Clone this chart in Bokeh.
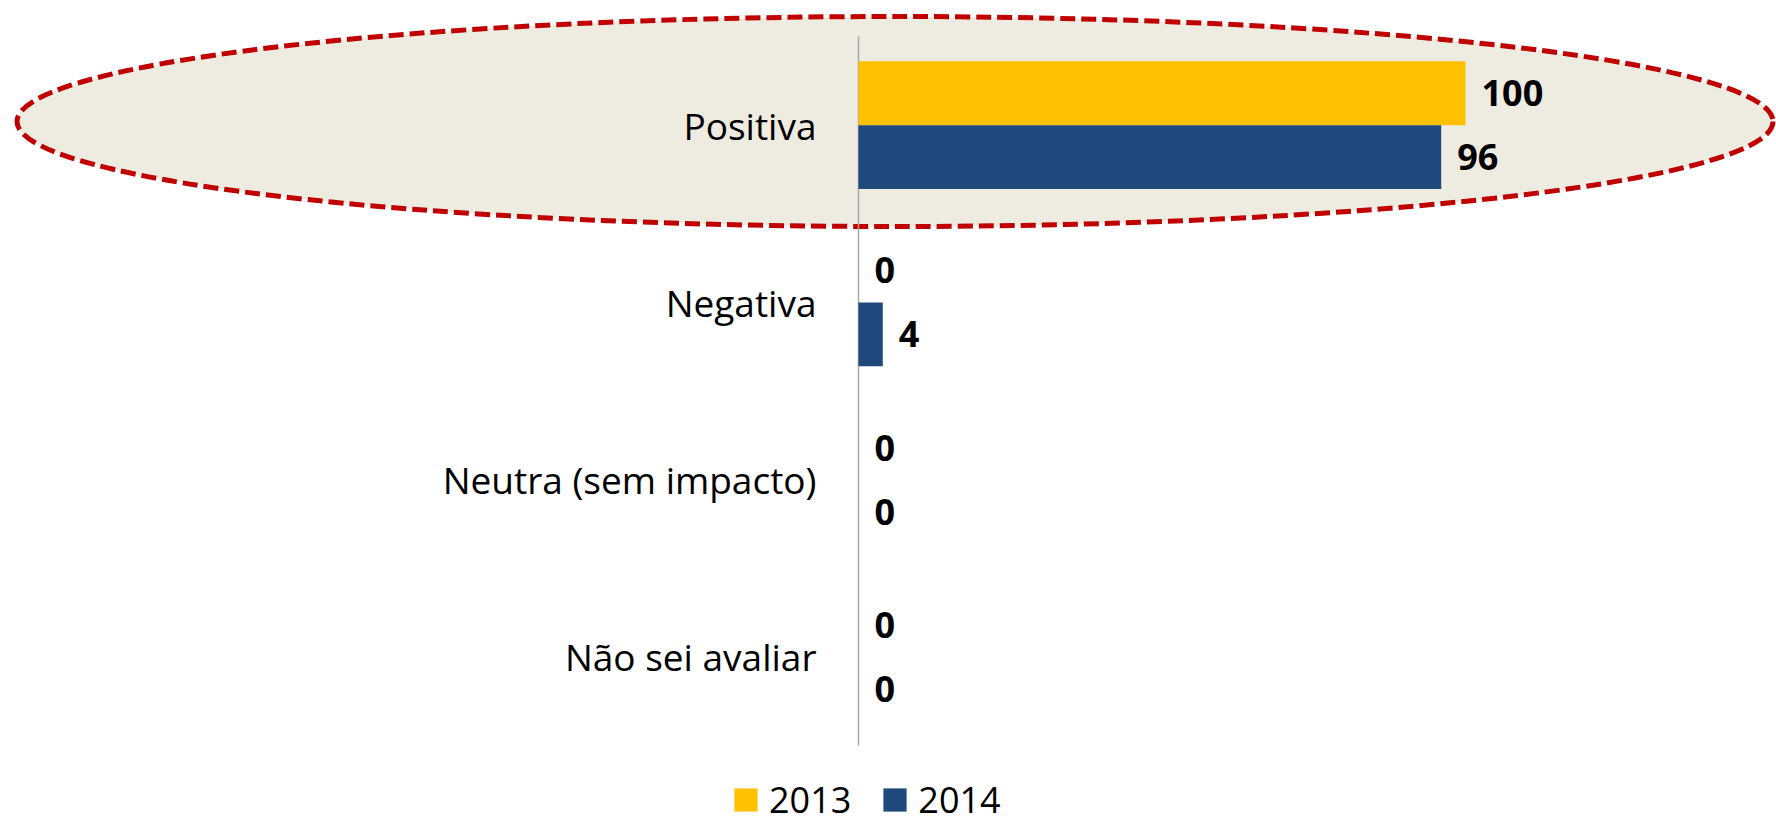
import numpy as np
from bokeh.plotting import figure
from bokeh.models import Range1d, Legend, LegendItem
from bokeh.core.properties import value
from bokeh.embed import file_html
from bokeh.resources import INLINE

# ---- data ----
categories = ["Positiva", "Negativa", "Neutra (sem impacto)", "Não sei avaliar"]
values_2013 = [100, 0, 0, 0]
values_2014 = [96, 4, 0, 0]
series_names = ["2013", "2014"]
series_colors = ["#FFC000", "#1F497D"]

# ---- layout ----
W, H = 1776, 825
px_per_x = 6.07          # screen px per value unit
axis_px = 858            # screen x of the value-axis zero line
n = len(categories)
px_per_y = 177.25        # screen px per category band
top_pad = 36

x_start = -axis_px / px_per_x
x_end = (W - axis_px) / px_per_x
y_end = n - 0.5 + top_pad / px_per_y
y_start = y_end - H / px_per_y

ypos = (n - 1 - np.arange(n)).astype(float)   # first category on top
bar_h = 0.36
off = bar_h / 2

p = figure(width=W, height=H, output_backend="svg", toolbar_location=None,
           x_range=Range1d(x_start, x_end), y_range=Range1d(y_start, y_end),
           x_axis_location=None, y_axis_location=None, min_border=0)
p.outline_line_color = None
p.xgrid.visible = False
p.ygrid.visible = False
p.background_fill_color = "white"
p.border_fill_color = "white"

# highlight ellipse around the first category
ell_cx = x_start + 894.5 / px_per_x
ell_cy = y_end - 121 / px_per_y
p.ellipse(x=[ell_cx], y=[ell_cy], width=1756, height=210,
          width_units="screen", height_units="screen",
          fill_color="#EEEBE0", line_color="#C00000", line_width=5,
          line_dash="15 6")

# category axis line
p.segment(x0=[0], y0=[-0.5], x1=[0], y1=[n - 0.5],
          line_color="#A6A6A6", line_width=1.5)

# bars
r13 = p.hbar(y=ypos + off, left=0, right=values_2013, height=bar_h,
             fill_color=series_colors[0], line_color=None)
r14 = p.hbar(y=ypos - off, left=0, right=values_2014, height=bar_h,
             fill_color=series_colors[1], line_color=None)

# value labels
for vals, dy in ((values_2013, off), (values_2014, -off)):
    p.text(x=vals, y=ypos + dy, text=[str(v) for v in vals],
           x_offset=16, text_align="left", text_baseline="middle",
           text_font=value("Open Sans"), text_font_style="bold",
           text_font_size="36px", text_color="black")

# category labels
p.text(x=[0] * n, y=ypos, text=categories, x_offset=-42,
       text_align="right", text_baseline="middle",
       text_font=value("Open Sans"), text_font_size="37px",
       text_color="black")

legend = Legend(items=[LegendItem(label=series_names[0], renderers=[r13]),
                       LegendItem(label=series_names[1], renderers=[r14])],
                location=(731, 1), orientation="horizontal",
                glyph_width=29, glyph_height=29, label_standoff=9,
                spacing=29, padding=0, margin=0, border_line_color=None,
                background_fill_alpha=0, label_text_font="Open Sans",
                label_text_font_size="36px", label_text_color="black")
p.add_layout(legend, "center")

open("out.html", "w").write(file_html(p, INLINE))
